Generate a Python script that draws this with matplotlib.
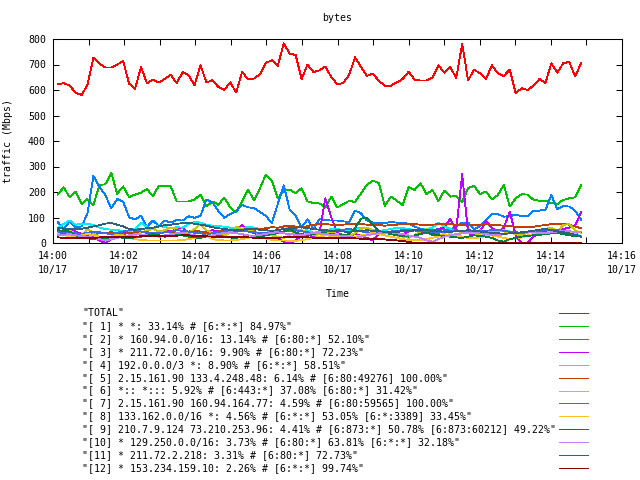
import pandas as pd
import matplotlib
matplotlib.use("Agg")
import matplotlib.pyplot as plt
import matplotlib.dates as mdates
from matplotlib.lines import Line2D

plt.rcParams.update({
    "font.family": "DejaVu Sans Mono",
    "font.size": 7.1,
    "axes.linewidth": 0.75,
})

# sample times (one point roughly every 10 s)
times = pd.date_range("2012-10-17 14:00:08", "2012-10-17 14:14:51", periods=89)

labels = [
    '"TOTAL"',
    '"[ 1] * *: 33.14% # [6:*:*] 84.97%"',
    '"[ 2] * 160.94.0.0/16: 13.14% # [6:80:*] 52.10%"',
    '"[ 3] * 211.72.0.0/16: 9.90% # [6:80:*] 72.23%"',
    '"[ 4] 192.0.0.0/3 *: 8.90% # [6:*:*] 58.51%"',
    '"[ 5] 2.15.161.90 133.4.248.48: 6.14% # [6:80:49276] 100.00%"',
    '"[ 6] *:: *::: 5.92% # [6:443:*] 37.08% [6:80:*] 31.42%"',
    '"[ 7] 2.15.161.90 160.94.164.77: 4.59% # [6:80:59565] 100.00%"',
    '"[ 8] 133.162.0.0/16 *: 4.56% # [6:*:*] 53.05% [6:*:3389] 33.45%"',
    '"[ 9] 210.7.9.124 73.210.253.96: 4.41% # [6:873:*] 50.78% [6:873:60212] 49.22%"',
    '"[10] * 129.250.0.0/16: 3.73% # [6:80:*] 63.81% [6:*:*] 32.18%"',
    '"[11] * 211.72.2.218: 3.31% # [6:80:*] 72.73%"',
    '"[12] * 153.234.159.10: 2.26% # [6:*:*] 99.74%"',
]

colors = ["#ff0000", "#00c000", "#0080ff", "#c000ff", "#00eeee", "#c04000",
          "#c8c800", "#4169e1", "#ffc020", "#008040", "#c080ff", "#306080",
          "#8b0000"]

total = [622, 627, 617, 590, 580, 620, 727, 703, 688, 688, 700, 713, 625, 605, 690,
         627, 640, 630, 643, 660, 627, 670, 658, 618, 697, 630, 638, 612, 600, 630,
         590, 670, 643, 645, 662, 706, 717, 695, 783, 743, 737, 643, 700, 670, 677,
         692, 650, 623, 627, 660, 728, 690, 655, 665, 635, 617, 617, 630, 643, 672,
         640, 637, 637, 648, 697, 668, 690, 647, 780, 638, 680, 665, 643, 697, 665,
         655, 680, 588, 607, 600, 617, 643, 628, 705, 668, 705, 710, 653, 705]
s1 = [190, 218, 180, 200, 153, 172, 148, 228, 230, 275, 193, 222, 180, 190, 197,
      212, 183, 225, 222, 222, 163, 163, 163, 170, 190, 143, 163, 150, 178, 140,
      120, 165, 210, 167, 215, 268, 245, 175, 205, 210, 195, 215, 163, 157, 155,
      140, 182, 139, 153, 165, 161, 195, 228, 245, 234, 145, 182, 166, 149, 219,
      208, 234, 192, 208, 164, 205, 182, 184, 161, 215, 224, 192, 202, 171, 188,
      228, 143, 175, 191, 190, 169, 166, 166, 156, 153, 169, 175, 179, 228]
s2 = [82, 55, 85, 62, 65, 116, 263, 221, 188, 136, 173, 162, 101, 92, 108,
      64, 88, 67, 88, 80, 90, 88, 105, 99, 106, 171, 160, 125, 99, 114,
      124, 149, 140, 137, 122, 106, 78, 153, 226, 131, 106, 60, 93, 55, 93,
      90, 88, 88, 85, 82, 127, 116, 88, 80, 80, 78, 82, 80, 80, 75,
      65, 55, 55, 50, 55, 52, 52, 65, 80, 80, 55, 65, 90, 115, 113,
      103, 106, 110, 106, 106, 127, 127, 130, 188, 132, 145, 143, 127, 92]
s3 = [40, 40, 50, 45, 35, 30, 25, 10, 0, 15, 35, 40, 40, 35, 45,
      40, 30, 45, 50, 45, 55, 60, 40, 45, 40, 40, 50, 45, 40, 50,
      55, 70, 45, 40, 30, 40, 45, 20, 5, 0, 10, 30, 35, 25, 40,
      175, 100, 40, 30, 25, 35, 30, 20, 10, 35, 40, 45, 40, 35, 45,
      50, 40, 45, 30, 55, 60, 95, 50, 270, 40, 30, 45, 85, 60, 40,
      60, 123, 30, 0, 0, 25, 40, 45, 50, 45, 55, 60, 70, 120]
s4 = [60, 75, 88, 72, 75, 75, 70, 60, 55, 52, 50, 48, 45, 55, 80,
      62, 55, 70, 62, 58, 62, 60, 75, 82, 80, 72, 68, 66, 64, 60,
      56, 55, 65, 60, 55, 50, 45, 50, 55, 60, 55, 48, 50, 40, 45,
      50, 55, 55, 50, 45, 55, 60, 55, 50, 48, 50, 55, 60, 58, 55,
      50, 48, 55, 60, 80, 65, 55, 48, 45, 50, 40, 50, 45, 45, 48,
      50, 45, 40, 42, 45, 40, 38, 35, 40, 42, 38, 35, 32, 28]
s5 = [35, 38, 40, 35, 32, 30, 35, 38, 40, 42, 38, 35, 40, 42, 45,
      40, 38, 42, 45, 40, 38, 42, 45, 48, 45, 42, 40, 45, 50, 48,
      45, 50, 48, 52, 55, 58, 62, 60, 65, 68, 64, 62, 66, 72, 75,
      74, 72, 70, 72, 74, 75, 74, 72, 70, 70, 68, 70, 72, 74, 75,
      74, 72, 70, 72, 74, 75, 73, 72, 70, 68, 70, 72, 74, 72, 70,
      68, 66, 64, 62, 62, 64, 68, 70, 74, 76, 75, 72, 65, 58]
s6 = [40, 45, 50, 35, 30, 55, 40, 20, 15, 25, 35, 30, 25, 30, 40,
      50, 55, 45, 50, 60, 55, 45, 40, 55, 75, 50, 40, 35, 30, 40,
      65, 55, 50, 45, 35, 40, 30, 25, 20, 30, 45, 50, 40, 30, 35,
      40, 45, 35, 30, 25, 40, 55, 60, 50, 45, 40, 35, 30, 25, 20,
      30, 45, 55, 40, 30, 35, 25, 30, 45, 50, 35, 30, 25, 40, 50,
      45, 40, 35, 30, 40, 45, 50, 55, 60, 45, 70, 75, 50, 40]
s7 = [45, 42, 40, 38, 35, 40, 45, 42, 38, 35, 40, 45, 50, 48, 45,
      42, 40, 38, 42, 45, 50, 48, 45, 40, 38, 35, 38, 42, 45, 50,
      52, 48, 45, 42, 40, 38, 36, 40, 44, 48, 50, 46, 42, 38, 40,
      45, 48, 50, 52, 55, 50, 46, 42, 40, 38, 40, 45, 48, 50, 52,
      50, 46, 44, 42, 40, 45, 48, 50, 46, 44, 42, 45, 48, 50, 52,
      48, 44, 42, 40, 42, 45, 48, 50, 52, 50, 48, 44, 40, 42]
s8 = [35, 30, 28, 25, 30, 35, 30, 25, 20, 25, 30, 25, 20, 15, 12,
      10, 10, 10, 10, 10, 10, 12, 15, 20, 25, 30, 15, 12, 10, 10,
      12, 15, 20, 25, 22, 18, 12, 10, 10, 8, 8, 12, 15, 20, 25,
      30, 28, 25, 22, 20, 25, 30, 35, 40, 35, 30, 25, 20, 15, 12,
      10, 12, 15, 20, 25, 30, 35, 30, 25, 20, 18, 22, 28, 30, 25,
      20, 15, 18, 22, 30, 35, 38, 40, 45, 42, 40, 38, 40, 45]
s9 = [50, 48, 45, 30, 25, 20, 15, 18, 20, 22, 25, 20, 18, 22, 25,
      30, 35, 30, 25, 28, 32, 30, 25, 22, 20, 25, 30, 28, 25, 22,
      20, 25, 30, 28, 25, 30, 35, 40, 45, 55, 40, 35, 30, 35, 40,
      38, 35, 32, 30, 35, 60, 95, 100, 70, 45, 40, 35, 30, 28, 25,
      30, 35, 40, 35, 30, 28, 25, 22, 20, 25, 30, 28, 25, 20, 10,
      5, 15, 20, 25, 28, 30, 32, 35, 38, 40, 35, 30, 28, 25]
s10 = [30, 32, 35, 30, 28, 25, 20, 15, 10, 15, 20, 25, 30, 35, 32,
       30, 28, 25, 30, 35, 38, 40, 35, 30, 28, 25, 30, 35, 40, 42,
       38, 35, 30, 28, 32, 36, 40, 42, 38, 35, 32, 30, 35, 40, 38,
       35, 32, 30, 28, 25, 20, 25, 30, 35, 38, 40, 42, 38, 35, 30,
       25, 20, 10, 5, 15, 25, 30, 35, 38, 40, 42, 38, 35, 32, 30,
       35, 38, 40, 42, 45, 42, 40, 38, 42, 45, 48, 46, 44, 45]
s11 = [58, 56, 55, 54, 56, 60, 65, 70, 76, 78, 72, 65, 55, 52, 55,
       58, 60, 65, 70, 72, 75, 78, 80, 75, 72, 68, 62, 58, 55, 52,
       50, 52, 55, 54, 52, 50, 48, 50, 55, 58, 60, 62, 58, 55, 52,
       50, 48, 46, 45, 44, 46, 48, 50, 48, 46, 44, 42, 44, 46, 48,
       50, 52, 50, 48, 46, 45, 44, 46, 48, 50, 48, 45, 42, 40, 38,
       36, 38, 40, 42, 45, 48, 52, 55, 50, 46, 42, 38, 32, 25]
s12 = [22, 20, 18, 18, 18, 18, 20, 22, 24, 25, 25, 24, 24, 25, 26,
       26, 27, 28, 28, 28, 29, 30, 30, 28, 27, 26, 25, 25, 24, 24,
       23, 22, 22, 21, 20, 20, 20, 21, 22, 22, 22, 22, 22, 21, 20,
       20, 20, 19, 19, 18, 18, 17, 16, 16, 15, 14, 12, 10, 8, 4,
       0, 0, 0, 0, 0, 0, 0, 0, 0, 0, 0, 0, 0, 0, 0,
       0, 0, 0, 0, 0, 0, 0, 0, 0, 0, 0, 0, 0, 0]

series = [total, s1, s2, s3, s4, s5, s6, s7, s8, s9, s10, s11, s12]

W, H = 640, 480
fig = plt.figure(figsize=(6.4, 4.8), dpi=100)
ax = fig.add_axes([53 / W, 1 - 243 / H, (622 - 53) / W, 204 / H])

for vals, col in zip(series, colors):
    ax.plot(times, vals, color=col, linewidth=0.6, antialiased=False)

ax.set_ylim(0, 800)
ax.set_yticks(range(0, 801, 100))
ax.set_xlim(pd.Timestamp("2012-10-17 14:00"), pd.Timestamp("2012-10-17 14:16"))
ax.xaxis.set_major_locator(mdates.MinuteLocator(byminute=range(0, 60, 2)))
ax.xaxis.set_minor_locator(mdates.MinuteLocator())
ax.xaxis.set_major_formatter(mdates.DateFormatter("%H:%M\n%m/%d"))
ax.tick_params(which="both", direction="in", length=4.3, width=0.75,
               top=True, right=True, labelsize=7.1)
ax.tick_params(axis="y", pad=5)
ax.tick_params(axis="x", pad=6)
for lbl in ax.get_xticklabels():
    lbl.set_linespacing(1.45)

ax.set_ylabel("traffic (Mbps)")
ax.yaxis.set_label_coords(-(53 - 13) / (622 - 53), 0.5)
ax.set_xlabel("Time")
ax.xaxis.set_label_coords(0.5, -(289 - 243) / 204)
fig.text(337.5 / W, 1 - 18 / H, "bytes", ha="center", va="center")

# key below the plot, gnuplot style
for k, (lab, col) in enumerate(zip(labels, colors)):
    y = 1 - (313 + 12.92 * k) / H
    fig.text(82 / W, y, lab, ha="left", va="center")
    fig.add_artist(Line2D([559 / W, 588 / W], [y, y], color=col,
                          linewidth=0.6, antialiased=False,
                          transform=fig.transFigure))

fig.savefig("out.png", dpi=100)
